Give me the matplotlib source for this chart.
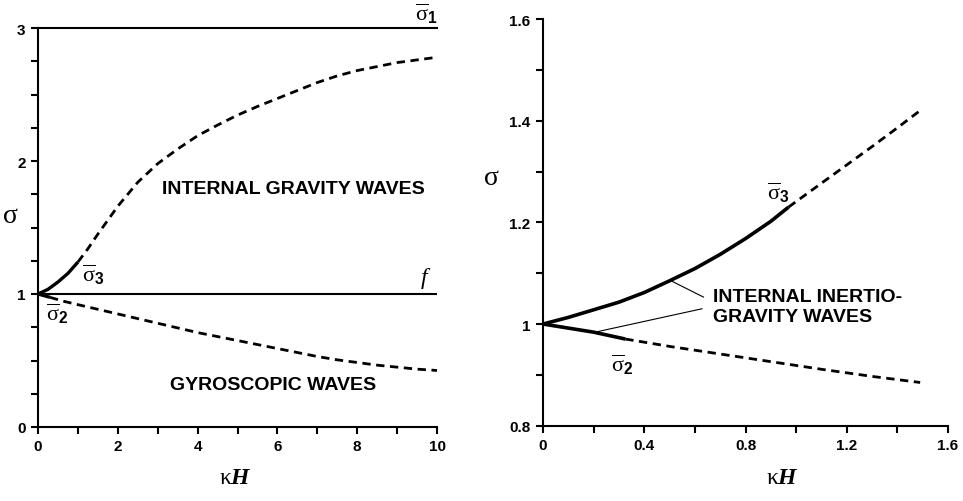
import matplotlib
matplotlib.use("Agg")
import matplotlib.pyplot as plt
from matplotlib.ticker import MultipleLocator, FixedLocator, FixedFormatter

plt.rcParams['font.family'] = ['Liberation Sans', 'DejaVu Sans']
plt.rcParams['mathtext.fontset'] = 'custom'
plt.rcParams['mathtext.rm'] = 'Liberation Serif'
plt.rcParams['mathtext.it'] = 'Liberation Serif:italic'
plt.rcParams['mathtext.bf'] = 'Liberation Serif:bold:italic'
plt.rcParams['mathtext.sf'] = 'Liberation Sans:bold'

# ---------------- data: left panel ----------------
left_sigma1 = 3.0
left_f = 1.0
left_hline_x = [0, 10]

left_upper_x = [0, 0.25, 0.5, 0.75, 1.0, 1.25, 1.5, 2.0, 2.5, 3.0, 3.5, 4.0, 4.5, 5.0,
                5.5, 6.0, 6.5, 7.0, 7.5, 8.0, 8.5, 9.0, 9.5, 10.0]
left_upper_y = [1.0, 1.035, 1.09, 1.155, 1.24, 1.34, 1.45, 1.66, 1.84, 1.98, 2.09, 2.19, 2.27, 2.345,
                2.41, 2.47, 2.53, 2.59, 2.64, 2.68, 2.71, 2.74, 2.76, 2.78]
left_upper_solid_n = 5   # points drawn solid (up to sigma_3)

left_lower_x = [0, 0.15, 0.3, 0.65, 1.0, 1.5, 2.0, 2.5, 3.0, 3.5, 4.0, 4.5, 5.0, 5.5,
                6.0, 6.5, 7.0, 7.5, 8.0, 8.5, 9.0, 9.5, 10.0]
left_lower_y = [1.0, 0.988, 0.975, 0.945, 0.92, 0.885, 0.85, 0.815, 0.78, 0.745, 0.71, 0.68, 0.65, 0.62,
                0.59, 0.56, 0.53, 0.505, 0.485, 0.465, 0.45, 0.435, 0.425]
left_lower_solid_n = 3

left_xticks = [0, 2, 4, 6, 8, 10]
left_xticklabels = ['0', '2', '4', '6', '8', '10']
left_yticks = [0, 1, 2, 3]
left_yticklabels = ['0', '1', '2', '3']

# ---------------- data: right panel ----------------
right_upper_x = [0, 0.1, 0.2, 0.3, 0.4, 0.5, 0.6, 0.7, 0.8, 0.9, 0.97, 1.1, 1.2, 1.3, 1.4, 1.49]
right_upper_y = [1.0, 1.013, 1.028, 1.043, 1.062, 1.085, 1.109, 1.137, 1.168, 1.202, 1.23,
                 1.277, 1.313, 1.349, 1.386, 1.42]
right_upper_solid_n = 11

right_lower_x = [0, 0.1, 0.2, 0.325, 0.5, 0.7, 0.9, 1.1, 1.3, 1.49]
right_lower_y = [1.0, 0.992, 0.984, 0.9705, 0.956, 0.941, 0.926, 0.911, 0.897, 0.885]
right_lower_solid_n = 4

right_leader1_x = [0.502, 0.634]
right_leader1_y = [1.086, 1.053]
right_leader2_x = [0.206, 0.628]
right_leader2_y = [0.984, 1.030]

right_xticks = [0, 0.4, 0.8, 1.2, 1.6]
right_xticklabels = ['0', '0.4', '0.8', '1.2', '1.6']
right_yticks = [0.8, 1.0, 1.2, 1.4, 1.6]
right_yticklabels = ['0.8', '1', '1.2', '1.4', '1.6']

# ---------------- figure ----------------
fig = plt.figure(figsize=(9.63, 5.02), dpi=100)
axL = fig.add_axes([38/963, (502-428)/502, 399/963, 399/502])
axR = fig.add_axes([543/963, (502-426.7)/502, 405/963, 406.7/502])

K = 'black'
DASH = (3.0, 2.0)
SIG = r'$\overline{\mathrm{\sigma}}_{\mathsf{%s}}$'

def style_axes(ax):
    for s in ['top', 'right']:
        ax.spines[s].set_visible(False)
    for s in ['left', 'bottom']:
        ax.spines[s].set_linewidth(1.5)
        ax.spines[s].set_color(K)
    ax.tick_params(which='both', direction='out', length=5, width=1.5, color=K)
    ax.tick_params(which='major', labelsize=11, pad=4)
    for lab in ax.get_xticklabels() + ax.get_yticklabels():
        lab.set_fontweight('bold')

# Left panel
axL.plot(left_hline_x, [left_sigma1, left_sigma1], color=K, lw=1.5, clip_on=False)
axL.plot(left_hline_x, [left_f, left_f], color=K, lw=1.5)
n = left_upper_solid_n
axL.plot(left_upper_x[:n], left_upper_y[:n], color=K, lw=2.4, solid_capstyle='butt')
axL.plot(left_upper_x[n-1:], left_upper_y[n-1:], color=K, lw=2.0, dashes=DASH)
n = left_lower_solid_n
axL.plot(left_lower_x[:n], left_lower_y[:n], color=K, lw=2.4, solid_capstyle='butt')
axL.plot(left_lower_x[n-1:], left_lower_y[n-1:], color=K, lw=2.0, dashes=DASH)

axL.set_xlim(0, 10)
axL.set_ylim(0, 3)
axL.xaxis.set_major_locator(FixedLocator(left_xticks))
axL.xaxis.set_major_formatter(FixedFormatter(left_xticklabels))
axL.xaxis.set_minor_locator(MultipleLocator(1))
axL.yaxis.set_major_locator(FixedLocator(left_yticks))
axL.yaxis.set_major_formatter(FixedFormatter(left_yticklabels))
axL.yaxis.set_minor_locator(MultipleLocator(0.25))
style_axes(axL)

axL.text(10, 3.02, SIG % '1', fontsize=16, ha='right', va='bottom')
axL.text(1.1, 1.15, SIG % '3', fontsize=16, ha='left', va='center')
axL.text(0.2, 0.86, SIG % '2', fontsize=16, ha='left', va='center')
axL.text(9.85, 1.03, r'$f$', fontsize=17, ha='right', va='bottom')
axL.text(3.1, 1.79, 'INTERNAL GRAVITY WAVES', fontsize=14, fontweight='bold', ha='left', va='center')
axL.text(3.3, 0.32, 'GYROSCOPIC WAVES', fontsize=14, fontweight='bold', ha='left', va='center')
axL.text(-0.07, 0.531, r'$\mathrm{\sigma}$', fontsize=20, ha='center', va='center', transform=axL.transAxes)
axL.text(0.496, -0.125, r'$\mathrm{\kappa}\mathbf{H}$', fontsize=17, ha='center', va='center', transform=axL.transAxes)

# Right panel
n = right_upper_solid_n
axR.plot(right_upper_x[:n], right_upper_y[:n], color=K, lw=2.6, solid_capstyle='butt')
axR.plot(right_upper_x[n-1:], right_upper_y[n-1:], color=K, lw=2.0, dashes=DASH)
n = right_lower_solid_n
axR.plot(right_lower_x[:n], right_lower_y[:n], color=K, lw=2.6, solid_capstyle='butt')
axR.plot(right_lower_x[n-1:], right_lower_y[n-1:], color=K, lw=2.0, dashes=DASH)
axR.plot(right_leader1_x, right_leader1_y, color=K, lw=0.8)
axR.plot(right_leader2_x, right_leader2_y, color=K, lw=0.8)

axR.set_xlim(0, 1.6)
axR.set_ylim(0.8, 1.6)
axR.xaxis.set_major_locator(FixedLocator(right_xticks))
axR.xaxis.set_major_formatter(FixedFormatter(right_xticklabels))
axR.xaxis.set_minor_locator(MultipleLocator(0.2))
axR.yaxis.set_major_locator(FixedLocator(right_yticks))
axR.yaxis.set_major_formatter(FixedFormatter(right_yticklabels))
axR.yaxis.set_minor_locator(MultipleLocator(0.1))
style_axes(axR)

axR.text(0.885, 1.26, SIG % '3', fontsize=16, ha='left', va='center')
axR.text(0.27, 0.921, SIG % '2', fontsize=16, ha='left', va='center')
axR.text(0.672, 1.054, 'INTERNAL INERTIO-', fontsize=14, fontweight='bold', ha='left', va='center')
axR.text(0.672, 1.014, 'GRAVITY WAVES', fontsize=14, fontweight='bold', ha='left', va='center')
axR.text(-0.128, 0.612, r'$\mathrm{\sigma}$', fontsize=20, ha='center', va='center', transform=axR.transAxes)
axR.text(0.59, -0.126, r'$\mathrm{\kappa}\mathbf{H}$', fontsize=17, ha='center', va='center', transform=axR.transAxes)

fig.savefig('out.png', dpi=100)
